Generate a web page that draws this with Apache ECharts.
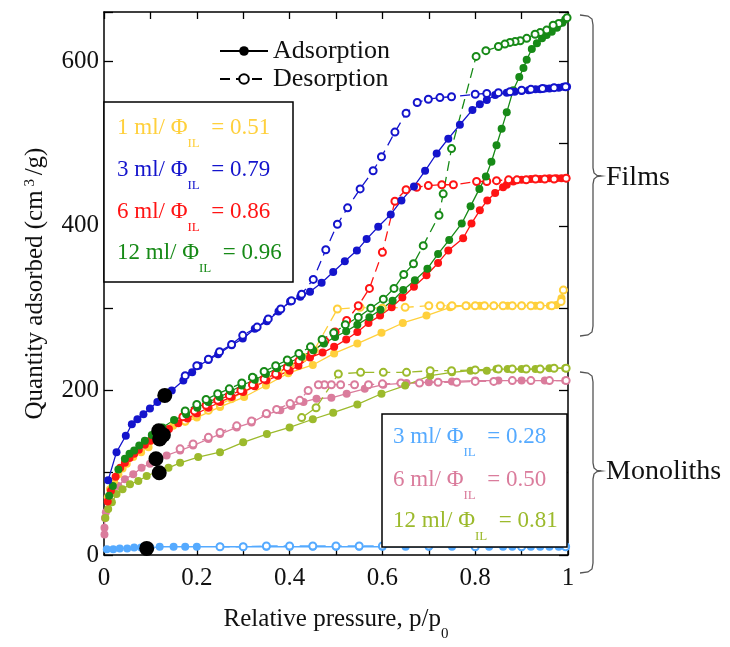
<!DOCTYPE html>
<html><head><meta charset="utf-8">
<script src="https://cdn.jsdelivr.net/npm/echarts@6/dist/echarts.min.js"></script>
<style>html,body{margin:0;padding:0;background:#fff}#c{width:730px;height:647px}</style>
</head><body><div id="c"></div>
<script>
// ---- tick labels ----
const xTickLabels = ['0','0.2','0.4','0.6','0.8','1'];
const yTickLabels = ['0','200','400','600'];

// ---- Films ----
const film1Ads = [[0.008,70],[0.013,80],[0.022,90],[0.031,98],[0.04,105],[0.049,111],[0.063,119],[0.08,125],[0.096,131],[0.12,143],[0.149,157],[0.175,162],[0.2,167],[0.25,180],[0.302,192],[0.349,206],[0.397,221],[0.45,231],[0.496,245],[0.546,257],[0.598,270],[0.644,282],[0.695,291],[0.746,301],[0.782,303],[0.81,303],[0.84,303],[0.87,303],[0.9,303],[0.93,303],[0.961,303],[0.975,304],[0.986,312],[0.99,322]];
const film1Des = [[0.99,322],[0.985,308],[0.965,303],[0.94,303],[0.92,303],[0.9,303],[0.88,303],[0.86,303],[0.84,303],[0.82,303],[0.8,303],[0.78,303],[0.75,303],[0.725,303],[0.7,303],[0.649,301],[0.6,300],[0.552,301],[0.503,299],[0.453,249],[0.43,240],[0.4,230],[0.375,222],[0.35,214],[0.325,206],[0.3,198],[0.275,190],[0.25,183],[0.225,176],[0.2,170],[0.175,163]];

const film3Ads = [[0.009,91],[0.027,125],[0.047,145],[0.06,159],[0.072,165],[0.085,171],[0.099,178],[0.115,186],[0.131,194],[0.146,200],[0.171,212],[0.19,222],[0.204,230],[0.225,237],[0.246,244],[0.275,255],[0.299,263],[0.325,275],[0.351,284],[0.376,296],[0.401,308],[0.423,314],[0.444,320],[0.469,331],[0.494,344],[0.519,357],[0.545,370],[0.566,384],[0.591,399],[0.618,414],[0.641,431],[0.668,448],[0.692,467],[0.717,488],[0.742,506],[0.767,523],[0.794,541],[0.81,548],[0.825,553],[0.843,559],[0.868,562],[0.885,563],[0.9,564],[0.915,565],[0.93,566],[0.94,566],[0.95,567],[0.96,567],[0.97,568],[0.98,568],[0.99,569],[0.998,569]];
const film3Des = [[0.995,569],[0.97,568],[0.945,567],[0.92,566],[0.9,565],[0.875,563],[0.85,562],[0.825,561],[0.8,560],[0.749,557],[0.724,556],[0.699,554],[0.675,550],[0.651,537],[0.627,514],[0.598,484],[0.58,467],[0.552,445],[0.525,422],[0.503,402],[0.478,371],[0.451,335],[0.426,317],[0.404,309],[0.381,299],[0.354,287],[0.33,277],[0.299,267],[0.275,256],[0.249,247],[0.225,238],[0.2,230],[0.175,218]];

const film6Ads = [[0.008,65],[0.015,78],[0.025,95],[0.035,106],[0.045,112],[0.055,118],[0.065,123],[0.075,128],[0.088,134],[0.1,139],[0.12,146],[0.14,153],[0.16,160],[0.18,166],[0.2,172],[0.225,179],[0.25,186],[0.275,192],[0.3,198],[0.325,205],[0.35,212],[0.375,218],[0.4,224],[0.419,230],[0.444,240],[0.471,246],[0.496,253],[0.522,262],[0.546,271],[0.57,282],[0.595,291],[0.62,301],[0.643,313],[0.668,326],[0.695,340],[0.72,355],[0.742,370],[0.774,385],[0.792,403],[0.81,419],[0.826,431],[0.843,440],[0.86,447],[0.868,450],[0.882,454],[0.9,456],[0.92,457],[0.94,457],[0.96,458],[0.975,458],[0.986,458],[0.996,458]];
const film6Des = [[0.996,458],[0.97,457],[0.95,457],[0.93,457],[0.91,456],[0.89,456],[0.872,456],[0.846,455],[0.825,454],[0.803,454],[0.753,450],[0.728,450],[0.699,449],[0.674,447],[0.651,444],[0.627,430],[0.6,368],[0.572,324],[0.548,303],[0.523,285],[0.498,271],[0.476,260],[0.448,246],[0.42,236],[0.395,228],[0.37,220],[0.345,214],[0.32,207],[0.295,200],[0.27,194],[0.245,188],[0.22,182],[0.195,175],[0.17,168]];

const film12Ads = [[0.011,72],[0.019,84],[0.031,104],[0.045,117],[0.055,123],[0.065,127],[0.076,133],[0.088,139],[0.103,146],[0.126,155],[0.151,164],[0.177,171],[0.201,179],[0.225,186],[0.249,192],[0.273,199],[0.297,206],[0.325,213],[0.349,220],[0.373,227],[0.399,234],[0.426,241],[0.451,249],[0.474,257],[0.498,265],[0.522,272],[0.546,280],[0.572,289],[0.596,298],[0.622,309],[0.645,322],[0.67,334],[0.697,348],[0.72,366],[0.744,383],[0.771,403],[0.79,424],[0.809,445],[0.823,460],[0.835,478],[0.846,498],[0.857,518],[0.868,538],[0.882,565],[0.895,581],[0.904,592],[0.911,602],[0.922,615],[0.933,622],[0.944,628],[0.954,632],[0.965,636],[0.976,641],[0.988,647],[0.994,651]];
const film12Des = [[0.998,653],[0.98,646],[0.968,644],[0.954,638],[0.94,635],[0.929,633],[0.911,628],[0.897,625],[0.886,624],[0.875,623],[0.864,621],[0.85,618],[0.823,613],[0.802,606],[0.749,494],[0.731,439],[0.722,413],[0.688,376],[0.667,354],[0.646,341],[0.625,324],[0.602,311],[0.575,300],[0.548,289],[0.52,280],[0.495,270],[0.47,262],[0.445,253],[0.42,245],[0.395,237],[0.37,230],[0.345,223],[0.32,216],[0.297,209],[0.27,202],[0.245,196],[0.22,189],[0.2,183],[0.175,175]];

// ---- Monoliths ----
const mono3Ads = [[0.006,7],[0.02,7],[0.034,8],[0.05,8],[0.065,9],[0.08,9],[0.1,9],[0.12,10],[0.15,10],[0.175,10],[0.2,10],[0.25,10],[0.3,10],[0.35,10],[0.4,10],[0.45,10],[0.5,10],[0.55,10],[0.6,10],[0.65,10],[0.7,10],[0.75,10],[0.8,10],[0.83,10],[0.86,10],[0.88,10],[0.9,10],[0.92,10],[0.94,10],[0.96,10],[0.98,10],[0.995,10]];
const mono3Des = [[0.995,10],[0.9,10],[0.8,10],[0.7,11],[0.6,11],[0.55,11],[0.5,11],[0.45,11],[0.4,11],[0.35,11],[0.3,10],[0.25,10]];

const mono6Ads = [[0.001,25],[0.001,33],[0.002,45],[0.004,52],[0.013,66],[0.02,76],[0.031,84],[0.045,92],[0.063,98],[0.081,106],[0.099,111],[0.135,121],[0.164,127],[0.192,133],[0.225,141],[0.25,147],[0.286,155],[0.318,161],[0.351,171],[0.38,176],[0.404,181],[0.43,186],[0.458,190],[0.49,191],[0.523,196],[0.562,202],[0.602,207],[0.652,209],[0.7,210],[0.75,211],[0.8,212],[0.85,212],[0.9,212],[0.95,212],[0.994,212]];
const mono6Des = [[0.996,212],[0.96,212],[0.92,212],[0.88,212],[0.84,211],[0.8,211],[0.76,210],[0.72,210],[0.68,209],[0.64,209],[0.6,208],[0.57,207],[0.54,207],[0.51,207],[0.49,207],[0.475,207],[0.462,207],[0.44,200],[0.422,188],[0.401,184],[0.372,177],[0.35,172],[0.318,163],[0.286,157],[0.25,149],[0.225,143],[0.192,135],[0.164,129]];

const mono12Ads = [[0.003,45],[0.009,56],[0.017,64],[0.027,74],[0.04,80],[0.056,86],[0.074,90],[0.092,96],[0.117,102],[0.139,106],[0.164,112],[0.203,119],[0.25,125],[0.3,137],[0.351,147],[0.4,155],[0.45,165],[0.494,173],[0.546,183],[0.598,196],[0.649,206],[0.703,218],[0.75,222],[0.79,224],[0.825,224],[0.846,226],[0.87,226],[0.9,226],[0.93,226],[0.96,227],[0.994,227]];
const mono12Des = [[0.996,227],[0.97,227],[0.94,226],[0.91,226],[0.88,226],[0.85,226],[0.8,225],[0.749,224],[0.703,224],[0.652,222],[0.602,222],[0.553,222],[0.505,220],[0.457,179],[0.426,167]];

// black marker points
const blackDots = [[0.131,194],[0.118,151],[0.128,146],[0.12,141],[0.112,117],[0.119,100],[0.092,8]];

// ---- legend boxes text ----
const filmLabels = ['1 ml/ Φ','3 ml/ Φ','6 ml/ Φ','12 ml/ Φ'];
const filmPhi = ['0.51','0.79','0.86','0.96'];
const monoLabels = ['3 ml/ Φ','6 ml/ Φ','12 ml/ Φ'];
const monoPhi = ['0.28','0.50','0.81'];

const C = {y:'#FFD03C', b:'#1414CC', r:'#FF1414', g:'#178A17', lb:'#55AAFF', p:'#DA7C9C', o:'#9CBA2C'};
const filmColors = [C.y, C.b, C.r, C.g];
const monoColors = [C.lb, C.p, C.o];
const FONT = 'Liberation Serif';

function pair(ads, des, color) {
  return [
    {type:'line', data:ads, symbol:'circle', symbolSize:8, showSymbol:true,
     lineStyle:{color, width:1.3}, itemStyle:{color}, emphasis:{disabled:true}},
    {type:'line', data:des, symbol:'emptyCircle', symbolSize:7,
     lineStyle:{color, width:1.3, type:[10,6]}, itemStyle:{color, borderWidth:1.5}, emphasis:{disabled:true}}
  ];
}

const series = [
  {name:'Adsorption', type:'line', data:[], symbol:'circle', symbolSize:8, lineStyle:{color:'#000',width:1.3}, itemStyle:{color:'#000'}},
  {name:'Desorption', type:'line', data:[], symbol:'emptyCircle', symbolSize:7, lineStyle:{color:'#000',width:1.3,type:[10,6]}, itemStyle:{color:'#000',borderWidth:1.5}},
  ...pair(mono3Ads, mono3Des, C.lb),
  ...pair(mono6Ads, mono6Des, C.p),
  ...pair(mono12Ads, mono12Des, C.o),
  ...pair(film1Ads, film1Des, C.y),
  ...pair(film6Ads, film6Des, C.r),
  ...pair(film12Ads, film12Des, C.g),
  ...pair(film3Ads, film3Des, C.b),
  {type:'scatter', data:blackDots, symbolSize:15, itemStyle:{color:'#000', opacity:1}, z:8}
];

function boxLine(x, y, label, phi, color) {
  return {
    type:'text', x, y, z:20,
    style:{
      text:'{m|'+label+'}{s|IL}{m|  = '+phi+'}',
      verticalAlign:'middle',
      rich:{
        m:{fontSize:23, fontFamily:FONT, fill:color, lineHeight:44, verticalAlign:'middle'},
        s:{fontSize:13, fontFamily:FONT, fill:color, lineHeight:14, verticalAlign:'bottom'}
      }
    }
  };
}

const graphics = [
  {type:'rect', shape:{x:104, y:102, width:189, height:180}, style:{fill:'#fff', stroke:'#000', lineWidth:1.5}, z:10},
  {type:'rect', shape:{x:382, y:414, width:185, height:133}, style:{fill:'#fff', stroke:'#000', lineWidth:1.5}, z:10},
];
const filmY = [128,170,212,253];
filmLabels.forEach((l,i)=>graphics.push(boxLine(117, filmY[i], l, filmPhi[i], filmColors[i])));
const monoY = [437,480,521];
monoLabels.forEach((l,i)=>graphics.push(boxLine(393, monoY[i], l, monoPhi[i], monoColors[i])));

function bracket(top, mid, bot) {
  return {type:'polyline', z:10, shape:{points:[[580,top],[588,top+1],[592,top+4],[593,top+10],[593,mid-8],[594,mid-3],[597,mid-0.5],[601,mid],[597,mid+0.5],[594,mid+3],[593,mid+8],[593,bot-10],[592,bot-4],[588,bot-1],[580,bot]]},
    style:{stroke:'#555', fill:null, lineWidth:1.3}};
}
graphics.push(bracket(15,176,336));
graphics.push(bracket(372,471,573));
graphics.push({type:'text', x:606, y:178, z:10, style:{text:'Films', fontSize:28, fontFamily:FONT, fill:'#111', verticalAlign:'middle'}});
graphics.push({type:'text', x:606, y:472, z:10, style:{text:'Monoliths', fontSize:28, fontFamily:FONT, fill:'#111', verticalAlign:'middle'}});

const axisCommon = {
  axisLine:{show:true, onZero:false, lineStyle:{color:'#000', width:1.5}},
  splitLine:{show:false},
};

const option = {
  animation:false,
  backgroundColor:'#fff',
  grid:{left:104, right:162, top:12, bottom:76},
  legend:{
    data:['Adsorption','Desorption'], orient:'vertical', left:214, top:33,
    itemWidth:48, itemHeight:12, itemGap:2,
    textStyle:{fontSize:26, fontFamily:FONT, color:'#111'}
  },
  xAxis:[
    {type:'value', min:0, max:1, interval:0.1, position:'bottom', ...axisCommon,
     axisTick:{inside:true, length:7, lineStyle:{color:'#000', width:1.3}},
     axisLabel:{fontSize:25, fontFamily:FONT, color:'#111', margin:11,
       formatter:v=>{const k=Math.round(v*10); return k%2===0 ? xTickLabels[k/2] : '';}},
     name:'Relative pressure, p/p{s|0}', nameLocation:'middle', nameGap:52,
     nameTextStyle:{fontSize:25, fontFamily:FONT, color:'#111',
       rich:{s:{fontSize:15, fontFamily:FONT, verticalAlign:'bottom', lineHeight:12, padding:[0,0,-10,0]}}}},
    {type:'value', min:0, max:1, interval:0.1, position:'top', ...axisCommon,
     axisTick:{inside:true, length:7, lineStyle:{color:'#000', width:1.3}}, axisLabel:{show:false}}
  ],
  yAxis:[
    {type:'value', min:0, max:660, interval:100, position:'left', ...axisCommon,
     axisTick:{inside:true, length:9, lineStyle:{color:'#000', width:1.3}},
     axisLabel:{fontSize:25, fontFamily:FONT, color:'#111', margin:5,
       formatter:v=>{ if (v%200!==0) return ''; return yTickLabels[v/200] || '';}},
     name:'Quantity adsorbed (cm{u| 3 }/g)', nameLocation:'middle', nameGap:56,
     nameTextStyle:{fontSize:25, fontFamily:FONT, color:'#111',
       rich:{u:{fontSize:15, fontFamily:FONT, verticalAlign:'top', lineHeight:12, padding:[0,0,10,0]}}}},
    {type:'value', min:0, max:660, interval:100, position:'right', ...axisCommon,
     axisTick:{inside:true, length:9, lineStyle:{color:'#000', width:1.3}}, axisLabel:{show:false}}
  ],
  series,
  graphic:graphics
};

const chart = echarts.init(document.getElementById('c'), null, {renderer:'canvas'});
chart.setOption(option);
</script>
</body></html>
